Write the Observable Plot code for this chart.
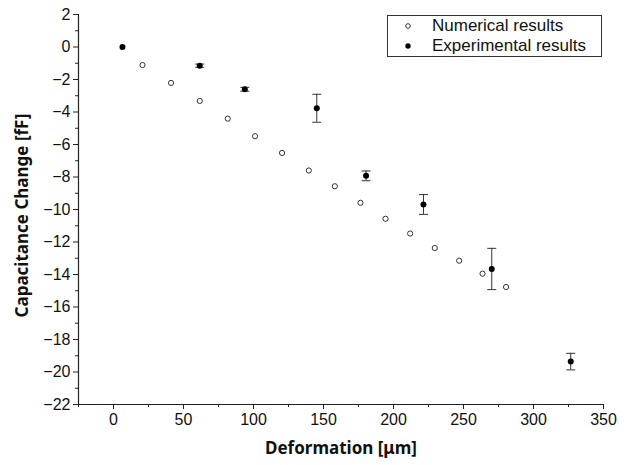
<!DOCTYPE html>
<html>
<head>
<meta charset="utf-8">
<script src="https://cdn.jsdelivr.net/npm/d3@7"></script>
<script src="https://cdn.jsdelivr.net/npm/@observablehq/plot@0.6"></script>
<style>
  html, body { margin: 0; padding: 0; background: #fff; }
  #wrap { position: relative; width: 629px; height: 465px; }
  #legend { position: absolute; left: 387px; top: 15px; width: 213px; height: 40px;
    border: 1px solid #333; background: #fff; font-family: "Liberation Sans", Arial, sans-serif;
    font-size: 17px; color: #111; }
  #legend .row { position: absolute; left: 0; height: 20px; line-height: 20px; }
  #legend svg { position: absolute; left: 14px; top: 4px; }
  #legend span { position: absolute; left: 44px; white-space: nowrap; }
</style>
</head>
<body>
<div id="wrap"></div>
<script>
// Numerical results (open circles)
const numX = [20.7, 41.1, 61.6, 81.6, 101.1, 120.4, 139.5, 158.1, 176.4, 194.3, 211.9, 229.5, 246.9, 263.6, 280.4];
const numY = [-1.11, -2.21, -3.32, -4.41, -5.49, -6.52, -7.60, -8.57, -9.59, -10.57, -11.48, -12.37, -13.15, -13.95, -14.77];
// Experimental results (filled dots with error bars)
const expX = [6.4, 61.6, 93.8, 145.2, 180.4, 221.4, 270.2, 326.6];
const expY = [0, -1.15, -2.6, -3.77, -7.93, -9.69, -13.66, -19.36];
const expErr = [0, 0.1, 0.12, 0.86, 0.3, 0.61, 1.27, 0.51];
// Axis ticks
const xTicks = [0, 50, 100, 150, 200, 250, 300, 350];
const xMinor = [-25, 25, 75, 125, 175, 225, 275, 325];
const yTicks = [2, 0, -2, -4, -6, -8, -10, -12, -14, -16, -18, -20, -22];
const yMinor = [1, -1, -3, -5, -7, -9, -11, -13, -15, -17, -19, -21];
const legendLabels = ["Numerical results", "Experimental results"];
const xLabel = "Deformation [μm]";
const yLabel = "Capacitance Change [fF]";

const numData = numX.map((x, i) => ({x, y: numY[i]}));
const expData = expX.map((x, i) => ({x, y: expY[i], e: expErr[i]}));
const errData = expData.filter(d => d.e > 0);

const capSymbol = {
  draw(context, size) {
    const w = 4.5;
    context.moveTo(-w, 0);
    context.lineTo(w, 0);
  }
};

const fmt = d => (d < 0 ? "\u2212" + Math.abs(d) : String(d));
const tickFont = "'Liberation Sans', Arial, sans-serif";
const titleFont = "'Noto Sans', 'Open Sans', sans-serif";

const chart = Plot.plot({
  width: 629,
  height: 465,
  marginLeft: 78,
  marginRight: 26,
  marginTop: 14,
  marginBottom: 61,
  style: {fontFamily: tickFont, fontSize: "16px", color: "#111", background: "#fff"},
  x: {domain: [-25, 350], label: null},
  y: {domain: [-22, 2], label: null},
  marks: [
    Plot.ruleX([-25], {stroke: "#222", strokeWidth: 1.2}),
    Plot.ruleY([-22], {stroke: "#222", strokeWidth: 1.2}),
    Plot.axisX({ticks: xTicks, tickSize: 5, tickPadding: 4, tickFormat: fmt, fontSize: 16, label: null, stroke: "#222"}),
    Plot.axisX({ticks: xMinor, tickSize: 3, text: null, label: null, stroke: "#222"}),
    Plot.axisY({ticks: yTicks, tickSize: 5, tickPadding: 3, tickFormat: fmt, fontSize: 16, label: null, stroke: "#222"}),
    Plot.axisY({ticks: yMinor, tickSize: 3, text: null, label: null, stroke: "#222"}),
    // error bars
    Plot.ruleX(errData, {x: "x", y1: d => d.y - d.e, y2: d => d.y + d.e, stroke: "#333", strokeWidth: 1}),
    Plot.dot(errData, {x: "x", y: d => d.y - d.e, symbol: capSymbol, stroke: "#333", strokeWidth: 1, fill: "none"}),
    Plot.dot(errData, {x: "x", y: d => d.y + d.e, symbol: capSymbol, stroke: "#333", strokeWidth: 1, fill: "none"}),
    // numerical
    Plot.dot(numData, {x: "x", y: "y", r: 2.6, stroke: "#333", strokeWidth: 1, fill: "white"}),
    // experimental
    Plot.dot(expData, {x: "x", y: "y", r: 3, fill: "#000", stroke: "none"}),
    // axis titles
    Plot.text([xLabel], {frameAnchor: "bottom", dy: 49, fontSize: 17, fontWeight: "bold", fontFamily: titleFont, fill: "#111"}),
    Plot.text([yLabel], {frameAnchor: "left", textAnchor: "middle", dx: -56, dy: 6, rotate: -90, fontSize: 17, fontWeight: "bold", fontFamily: titleFont, fill: "#111"})
  ]
});

const wrap = document.getElementById("wrap");
wrap.appendChild(chart);

const legend = document.createElement("div");
legend.id = "legend";
legend.innerHTML = legendLabels.map((t, i) => {
  const sym = i === 0
    ? '<circle cx="6" cy="6" r="2.3" fill="white" stroke="#333" stroke-width="1"/>'
    : '<circle cx="6" cy="6" r="2.7" fill="#000"/>';
  return `<div class="row" style="top:${i * 20 + 0}px"><svg width="12" height="12">${sym}</svg><span>${t}</span></div>`;
}).join("");
wrap.appendChild(legend);
</script>
</body>
</html>
